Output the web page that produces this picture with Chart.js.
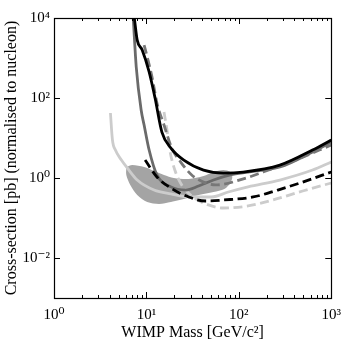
<!DOCTYPE html>
<html>
<head>
<meta charset="utf-8">
<script src="https://cdn.jsdelivr.net/npm/chart.js@4/dist/chart.umd.min.js"></script>
<style>
  html, body { margin: 0; padding: 0; background: #fff; }
  #box { width: 349px; height: 345px; }
</style>
</head>
<body>
<div id="box"><canvas id="myChart"></canvas></div>
<script>
  // tick positions and labels
  var xTickValues = [1, 10, 100, 1000];
  var xTickLabels = ['10⁰', '10¹', '10²', '10³'];
  var xMinorTicks = [2, 3, 4, 5, 6, 7, 8, 9, 20, 30, 40, 50, 60, 70, 80, 90, 200, 300, 400, 500, 600, 700, 800, 900];
  var yTickValues = [0.01, 1, 100, 10000];
  var yTickLabels = ['10⁻²', '10⁰', '10²', '10⁴'];

  // limit curves: WIMP mass [GeV/c2] and cross-section [pb]
  var blackSolidMass = [7.4, 7.95, 9.0, 10.7, 12.4, 14.7, 18.4, 25.4, 41.5, 68, 111, 278, 627, 1000];
  var blackSolidXsec = [10000, 2800, 1590, 450, 100, 14.1, 5.6, 2.8, 1.58, 1.33, 1.41, 2.1, 5.0, 8.9];

  var darkSolidMass = [7.2, 7.76, 8.77, 9.44, 10.7, 13.0, 18.4, 26.6, 36.7, 53.2, 81, 126, 278, 627, 1000];
  var darkSolidXsec = [10000, 596, 50, 21.1, 5.0, 1.19, 0.6, 0.5, 0.63, 0.89, 1.19, 1.41, 1.88, 4.5, 7.9];

  var darkDashMass = [9.44, 10.2, 11.5, 13.0, 15.5, 18.8, 23.5, 30.9, 41.5, 55.8, 120, 183, 412, 1000];
  var darkDashXsec = [2110, 1060, 335, 75, 21.1, 5.6, 2.5, 1.19, 0.79, 0.67, 1.0, 1.41, 2.82, 6.7];

  var lightDashMass = [15.5, 16.7, 17.9, 20.3, 24.1, 30.9, 41.5, 68, 126, 234, 490, 1000];
  var lightDashXsec = [44.7, 15.8, 5.0, 1.58, 0.67, 0.355, 0.237, 0.178, 0.2, 0.282, 0.473, 0.75];

  var lightSolidMass = [4.08, 4.29, 4.62, 5.36, 6.21, 7.95, 12.1, 18.4, 30.1, 50.6, 77, 126, 278, 627, 1000];
  var lightSolidXsec = [42.2, 8.9, 5.0, 2.82, 1.78, 0.89, 0.5, 0.4, 0.335, 0.335, 0.447, 0.6, 0.89, 1.58, 2.51];

  var blackDashMass = [9.68, 13.0, 18.4, 28.7, 43.6, 68, 143, 264, 490, 1000];
  var blackDashXsec = [2.82, 1.06, 0.56, 0.335, 0.266, 0.282, 0.335, 0.5, 0.79, 1.41];

  // allowed region (closed contour)
  var regionMass = [6.06, 7.03, 9.44, 12.1, 15.5, 19.8, 28.7, 41.5, 53.2, 68, 81, 85, 81, 69.7, 53.2, 36.7, 25.4, 18.4, 13.7, 10.2, 7.95, 6.69, 6.06, 6.06];
  var regionXsec = [1.88, 2.11, 1.88, 1.5, 1.19, 1.0, 0.944, 1.12, 1.41, 1.58, 1.41, 1.06, 0.75, 0.53, 0.447, 0.376, 0.299, 0.251, 0.224, 0.251, 0.376, 0.668, 1.19, 1.88];

  function pairs(mass, xsec) {
    return mass.map((m, i) => ({x: m, y: xsec[i]}));
  }

  function curve(mass, xsec, color, dashed, order) {
    return {
      data: pairs(mass, xsec),
      showLine: true,
      borderColor: color,
      borderWidth: 2.8,
      borderDash: dashed ? [9, 4.5] : [],
      pointRadius: 0,
      cubicInterpolationMode: 'monotone',
      fill: false,
      order: order
    };
  }

  var serif = "'Liberation Serif', 'DejaVu Serif', serif";

  // inward ticks and frame, like the original plot
  var frameTicks = {
    id: 'frameTicks',
    afterDraw(chart) {
      var ctx = chart.ctx;
      var a = chart.chartArea;
      var xs = chart.scales.x, ys = chart.scales.y;
      ctx.save();
      ctx.strokeStyle = '#000';
      ctx.lineWidth = 1;
      ctx.beginPath();
      xs.ticks.forEach(t => {
        var px = Math.round(xs.getPixelForValue(t.value)) + 0.5;
        var len = t.major ? 6 : 3;
        ctx.moveTo(px, a.bottom); ctx.lineTo(px, a.bottom - len);
        ctx.moveTo(px, a.top); ctx.lineTo(px, a.top + len);
      });
      ys.ticks.forEach(t => {
        var py = Math.round(ys.getPixelForValue(t.value)) + 0.5;
        ctx.moveTo(a.left, py); ctx.lineTo(a.left + 6, py);
        ctx.moveTo(a.right, py); ctx.lineTo(a.right - 6, py);
      });
      ctx.stroke();
      ctx.lineWidth = 1.2;
      ctx.strokeRect(Math.round(a.left) + 0.5, Math.round(a.top) + 0.5,
                     Math.round(a.right - a.left), Math.round(a.bottom - a.top));
      ctx.restore();
    }
  };

  var ctx = document.getElementById('myChart').getContext('2d');
  this.chart = new Chart(ctx, {
    type: 'scatter',
    data: {
      datasets: [
        curve(blackSolidMass, blackSolidXsec, '#000000', false, 0),
        curve(blackDashMass, blackDashXsec, '#000000', true, 1),
        curve(darkDashMass, darkDashXsec, '#777777', true, 2),
        curve(darkSolidMass, darkSolidXsec, '#6a6a6a', false, 3),
        curve(lightDashMass, lightDashXsec, '#cccccc', true, 4),
        curve(lightSolidMass, lightSolidXsec, '#cccccc', false, 5),
        {
          data: pairs(regionMass, regionXsec),
          showLine: true,
          borderWidth: 0,
          borderColor: 'rgba(0,0,0,0)',
          backgroundColor: '#a4a4a4',
          pointRadius: 0,
          tension: 0.3,
          fill: 'shape',
          order: 6
        }
      ]
    },
    options: {
      responsive: true,
      maintainAspectRatio: false,
      animation: false,
      layout: { padding: { top: 18, right: 15, left: 0, bottom: 0 } },
      plugins: { legend: { display: false }, tooltip: { enabled: false } },
      scales: {
        x: {
          type: 'logarithmic',
          min: 1,
          max: 1000,
          afterBuildTicks: scale => {
            scale.ticks = xTickValues.concat(xMinorTicks).sort((a, b) => a - b)
              .map(v => ({value: v, major: xTickValues.includes(v)}));
          },
          afterFit: scale => { scale.height = 47; },
          grid: { display: false, drawTicks: false },
          border: { display: false },
          ticks: {
            autoSkip: false,
            maxRotation: 0,
            padding: 8,
            color: '#000',
            font: { family: serif, size: 15 },
            callback: v => {
              var i = xTickValues.indexOf(v);
              return i >= 0 ? xTickLabels[i] : '';
            }
          },
          title: {
            display: true,
            text: 'WIMP Mass [GeV/c²]',
            color: '#000',
            font: { family: serif, size: 16 },
            padding: { top: 0, bottom: 3 }
          }
        },
        y: {
          type: 'logarithmic',
          min: 0.001,
          max: 10000,
          afterBuildTicks: scale => {
            scale.ticks = yTickValues.map(v => ({value: v, major: true}));
          },
          afterFit: scale => { scale.width = 54; },
          grid: { display: false, drawTicks: false },
          border: { display: false },
          ticks: {
            padding: 4,
            color: '#000',
            font: { family: serif, size: 15 },
            callback: v => {
              var i = yTickValues.indexOf(v);
              return i >= 0 ? yTickLabels[i] : '';
            }
          },
          title: {
            display: true,
            text: 'Cross-section [pb] (normalised to nucleon)',
            color: '#000',
            font: { family: serif, size: 16 },
            padding: { top: 2, bottom: 0 }
          }
        }
      }
    },
    plugins: [frameTicks]
  });
</script>
</body>
</html>
